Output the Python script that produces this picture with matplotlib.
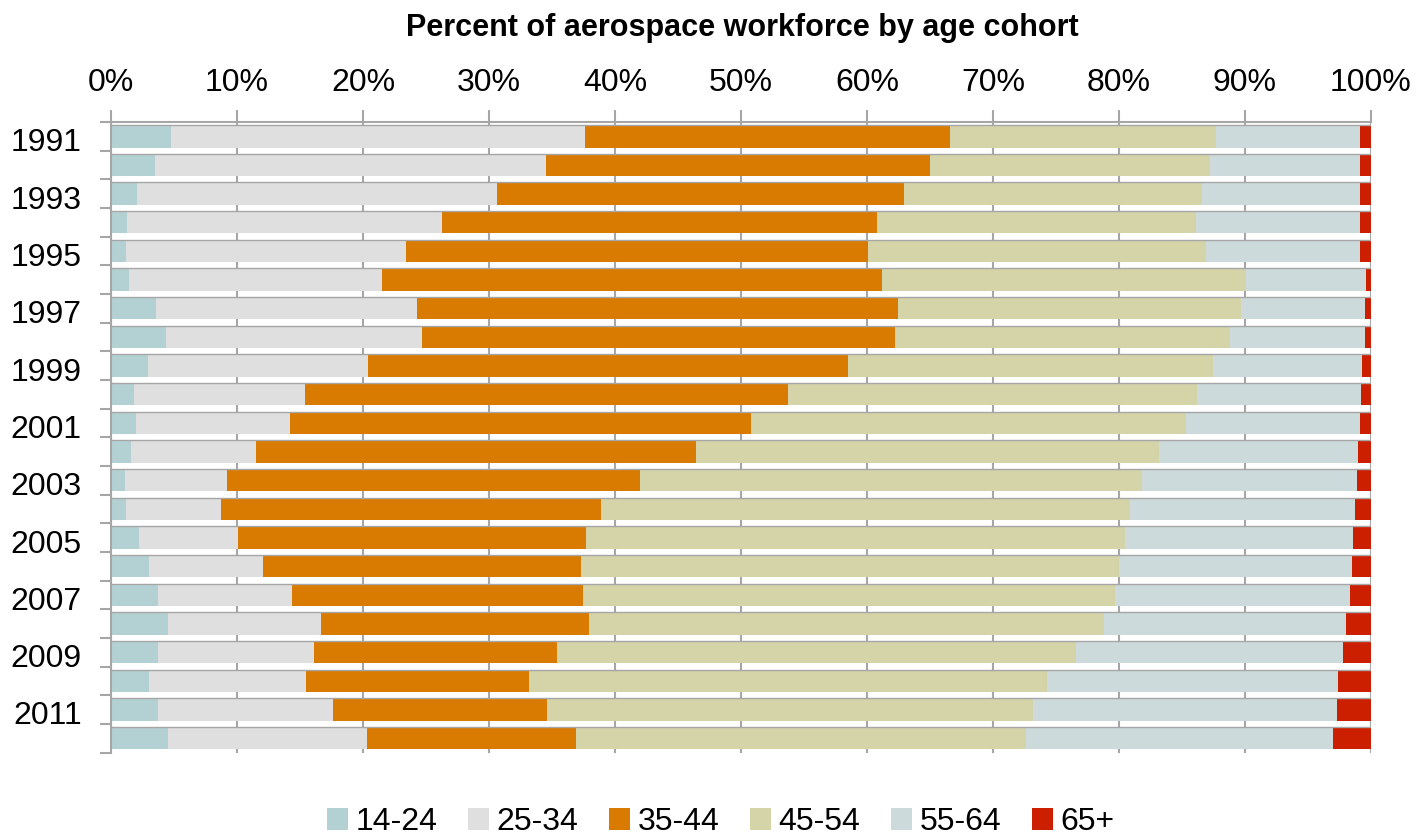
import numpy as np
import matplotlib
matplotlib.use('Agg')
import matplotlib.pyplot as plt

# share of the aerospace workforce (%) in each age cohort, 1991-2012
years = list(range(1991, 2013))
cohorts = ['14-24', '25-34', '35-44', '45-54', '55-64', '65+']

age_14_24 = [4.8, 3.5, 2.1, 1.3, 1.2, 1.4, 3.6, 4.4, 2.9, 1.8, 2.0,
             1.6, 1.1, 1.2, 2.2, 3.0, 3.7, 4.5, 3.7, 3.0, 3.7, 4.5]
age_25_34 = [32.8, 31.0, 28.5, 25.0, 22.2, 20.1, 20.7, 20.3, 17.5, 13.6, 12.2,
             9.9, 8.1, 7.5, 7.9, 9.1, 10.7, 12.2, 12.4, 12.5, 13.9, 15.8]
age_35_44 = [29.0, 30.5, 32.3, 34.5, 36.7, 39.7, 38.2, 37.5, 38.1, 38.3, 36.6,
             34.9, 32.8, 30.2, 27.6, 25.2, 23.1, 21.2, 19.3, 17.7, 17.0, 16.6]
age_45_54 = [21.1, 22.2, 23.7, 25.3, 26.8, 28.9, 27.2, 26.6, 29.0, 32.5, 34.5,
             36.8, 39.8, 42.0, 42.8, 42.7, 42.2, 40.9, 41.2, 41.1, 38.6, 35.7]
age_55_64 = [11.4, 11.9, 12.5, 13.0, 12.2, 9.5, 9.8, 10.7, 11.8, 13.0, 13.8,
             15.8, 17.1, 17.8, 18.1, 18.5, 18.6, 19.2, 21.2, 23.1, 24.1, 24.4]
age_65_up = [0.9, 0.9, 0.9, 0.9, 0.9, 0.4, 0.5, 0.5, 0.7, 0.8, 0.9,
             1.0, 1.1, 1.3, 1.4, 1.5, 1.7, 2.0, 2.2, 2.6, 2.7, 3.0]

colors = ['#b3d1d3', '#dfdfdf', '#d97b00', '#d5d3a8', '#ccdadb', '#cc1f00']
axis_grey = '#a6a6a6'

plt.rcParams['font.family'] = ['Liberation Sans', 'DejaVu Sans']

fig = plt.figure(figsize=(14.16, 8.38), dpi=100)
ax = fig.add_axes([0.0784, 0.102, 0.8898, 0.7524])

series = [age_14_24, age_25_34, age_35_44, age_45_54, age_55_64, age_65_up]
pos = np.arange(len(years))
bar_h = 0.78
left = np.zeros(len(years))
for name, vals, col in zip(cohorts, series, colors):
    vals = np.array(vals)
    ax.barh(pos, vals, left=left, height=bar_h, color=col, label=name, zorder=2)
    left += vals

# thin grey rule along the top of every bar
ax.hlines(pos - bar_h / 2, 0, 100, color=axis_grey, lw=1.0, zorder=3)

ax.set_xlim(0, 100)
ax.set_ylim(len(years) - 0.5, -0.5)

ax.xaxis.tick_top()
ax.set_xticks(np.arange(0, 101, 10))
ax.set_xticklabels([f'{v}%' for v in range(0, 101, 10)], fontsize=23)
ax.tick_params(axis='x', direction='out', length=9, width=1.5, color=axis_grey, pad=8)
ax.grid(axis='x', color=axis_grey, lw=1.5, zorder=0)

ax.set_yticks(pos[::2] + 0.12)
ax.set_yticklabels([str(y) for y in years[::2]], fontsize=23)
ax.tick_params(axis='y', which='major', length=0, pad=21)
ax.set_yticks(np.arange(-0.5, len(years), 1), minor=True)
ax.tick_params(axis='y', which='minor', direction='out', length=8, width=1.5, color=axis_grey)

for s in ['right', 'bottom']:
    ax.spines[s].set_visible(False)
for s in ['top', 'left']:
    ax.spines[s].set_color(axis_grey)
    ax.spines[s].set_linewidth(1.5)

fig.text(0.524, 0.966, 'Percent of aerospace workforce by age cohort',
         ha='center', va='center', fontsize=22, fontweight='bold')

fig.legend(loc='center', bbox_to_anchor=(0.509, 0.019), ncol=6, frameon=False,
           fontsize=23, handlelength=0.65, handleheight=0.65, handletextpad=0.25,
           columnspacing=0.95, borderaxespad=0)

fig.savefig('out.png', dpi=100)
